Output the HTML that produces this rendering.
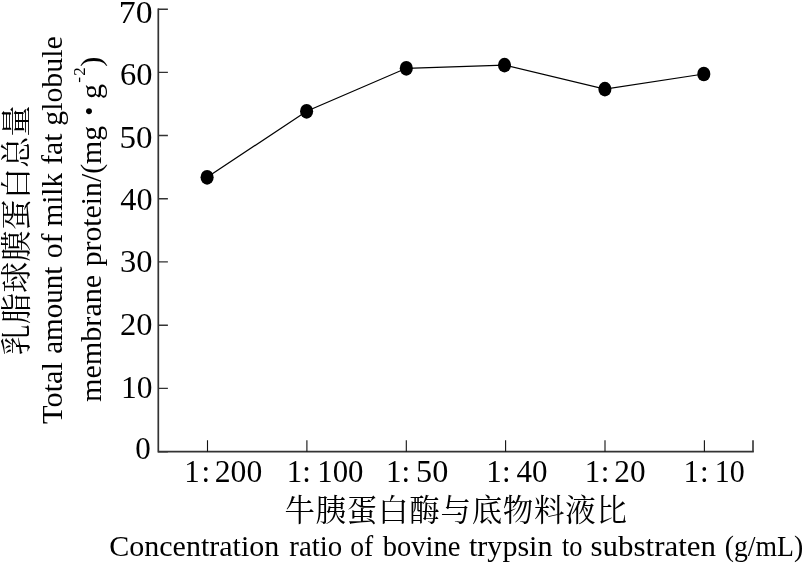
<!DOCTYPE html>
<html lang="zh">
<head>
<meta charset="utf-8">
<title>Chart</title>
<style>
html,body{margin:0;padding:0;background:#fff;}
body{width:805px;height:567px;overflow:hidden;}
svg{display:block;}
text{fill:#000;}
.en{font-family:"Liberation Serif",serif;}
.cn{font-family:"Liberation Serif","Noto Serif CJK SC",serif;}
</style>
</head>
<body>
<svg width="805" height="567" viewBox="0 0 805 567">
<rect width="805" height="567" fill="#fff"/>
<g stroke="#333" stroke-width="1.7" fill="none">
<path d="M158.3 8.6 V451.7 H753.8"/>
<path d="M158 9.3 H167.9 M158 72.4 H167.9 M158 135.5 H167.9 M158 198.7 H167.9 M158 261.9 H167.9 M158 325.2 H167.9 M158 388.4 H167.9 M158 451.7 H167.9" stroke-width="1.4"/>
<path d="M207.5 451.7 V440.2 M306.9 451.7 V440.2 M406.3 451.7 V440.2 M505.6 451.7 V440.2 M605 451.7 V440.2 M704.4 451.7 V440.2" stroke-width="1.1" stroke="#111"/>
<path d="M753 451.7 V440.2" stroke-width="1.6"/>
</g>
<polyline points="207.1,177.3 306.6,111.3 406.3,68.3 504.5,65.1 604.9,89.1 703.8,74.0" fill="none" stroke="#000" stroke-width="1.25"/>
<g fill="#000">
<ellipse cx="207.1" cy="177.3" rx="6.55" ry="7.35"/>
<ellipse cx="306.6" cy="111.3" rx="6.55" ry="7.35"/>
<ellipse cx="406.3" cy="68.3" rx="6.55" ry="7.35"/>
<ellipse cx="504.5" cy="65.1" rx="6.55" ry="7.35"/>
<ellipse cx="604.9" cy="89.1" rx="6.55" ry="7.35"/>
<ellipse cx="703.8" cy="74.0" rx="6.55" ry="7.35"/>
</g>
<text class="en" font-size="31"><tspan x="118.75" y="22.70" textLength="33.75" lengthAdjust="spacingAndGlyphs">70</tspan></text>
<text class="en" font-size="31"><tspan x="120.00" y="85.00" textLength="32.50" lengthAdjust="spacingAndGlyphs">60</tspan></text>
<text class="en" font-size="31"><tspan x="119.50" y="147.50" textLength="33.00" lengthAdjust="spacingAndGlyphs">50</tspan></text>
<text class="en" font-size="31"><tspan x="120.25" y="210.30" textLength="32.25" lengthAdjust="spacingAndGlyphs">40</tspan></text>
<text class="en" font-size="31"><tspan x="120.00" y="272.10" textLength="32.50" lengthAdjust="spacingAndGlyphs">30</tspan></text>
<text class="en" font-size="31"><tspan x="120.00" y="334.70" textLength="32.50" lengthAdjust="spacingAndGlyphs">20</tspan></text>
<text class="en" font-size="31"><tspan x="121.00" y="397.50" textLength="31.50" lengthAdjust="spacingAndGlyphs">10</tspan></text>
<text class="en" font-size="31"><tspan x="135.25" y="459.30">0</tspan></text>
<text class="en" font-size="31"><tspan x="184.25" y="482.40">1</tspan><tspan x="201.45" y="482.40">:</tspan><tspan x="214.75" y="482.40" textLength="47.50" lengthAdjust="spacingAndGlyphs">200</tspan></text>
<text class="en" font-size="31"><tspan x="286.75" y="482.40">1</tspan><tspan x="302.20" y="482.40">:</tspan><tspan x="317.25" y="482.40" textLength="46.25" lengthAdjust="spacingAndGlyphs">100</tspan></text>
<text class="en" font-size="31"><tspan x="386.00" y="482.40">1</tspan><tspan x="401.45" y="482.40">:</tspan><tspan x="416.00" y="482.40" textLength="32.25" lengthAdjust="spacingAndGlyphs">50</tspan></text>
<text class="en" font-size="31"><tspan x="486.25" y="482.40">1</tspan><tspan x="501.95" y="482.40">:</tspan><tspan x="516.50" y="482.40" textLength="31.00" lengthAdjust="spacingAndGlyphs">40</tspan></text>
<text class="en" font-size="31"><tspan x="584.75" y="482.40">1</tspan><tspan x="600.70" y="482.40">:</tspan><tspan x="614.25" y="482.40" textLength="31.25" lengthAdjust="spacingAndGlyphs">20</tspan></text>
<text class="en" font-size="31"><tspan x="683.50" y="482.40">1</tspan><tspan x="699.95" y="482.40">:</tspan><tspan x="714.75" y="482.40" textLength="30.00" lengthAdjust="spacingAndGlyphs">10</tspan></text>
<text class="en" font-size="29"><tspan x="109.25" y="555.70" textLength="170.00" lengthAdjust="spacingAndGlyphs">Concentration</tspan> <tspan x="289.25" y="555.70" textLength="53.00" lengthAdjust="spacingAndGlyphs">ratio</tspan> <tspan x="350.25" y="555.70" textLength="23.00" lengthAdjust="spacingAndGlyphs">of</tspan> <tspan x="382.75" y="555.70" textLength="77.75" lengthAdjust="spacingAndGlyphs">bovine</tspan> <tspan x="469.00" y="555.70" textLength="83.50" lengthAdjust="spacingAndGlyphs">trypsin</tspan> <tspan x="562.00" y="555.70" textLength="20.50" lengthAdjust="spacingAndGlyphs">to</tspan> <tspan x="590.50" y="555.70" textLength="125.50" lengthAdjust="spacingAndGlyphs">substraten</tspan> <tspan x="724.75" y="555.70" textLength="78.50" lengthAdjust="spacingAndGlyphs">(g/mL)</tspan></text>
<text class="cn" font-size="30.5"><tspan x="284.40" y="521.00" textLength="342.60" lengthAdjust="spacing">牛胰蛋白酶与底物料液比</tspan></text>
<text class="cn" font-size="31" transform="rotate(-90)"><tspan x="-355.25" y="26.70" textLength="249.75" lengthAdjust="spacing">乳脂球膜蛋白总量</tspan></text>
<text class="en" font-size="30" transform="rotate(-90)"><tspan x="-424.00" y="62.40" textLength="62.00" lengthAdjust="spacingAndGlyphs">Total</tspan> <tspan x="-353.75" y="62.40" textLength="87.00" lengthAdjust="spacingAndGlyphs">amount</tspan> <tspan x="-258.25" y="62.40" textLength="24.75" lengthAdjust="spacingAndGlyphs">of</tspan> <tspan x="-226.50" y="62.40" textLength="53.50" lengthAdjust="spacingAndGlyphs">milk</tspan> <tspan x="-164.75" y="62.40" textLength="31.25" lengthAdjust="spacingAndGlyphs">fat</tspan> <tspan x="-125.75" y="62.40" textLength="89.50" lengthAdjust="spacingAndGlyphs">globule</tspan></text>
<text class="en" font-size="30" transform="rotate(-90)"><tspan x="-402.00" y="101.00" textLength="127.25" lengthAdjust="spacingAndGlyphs">membrane</tspan> <tspan x="-266.25" y="101.00" textLength="140.25" lengthAdjust="spacingAndGlyphs">protein/(mg</tspan><tspan x="-119.50" y="105.80" font-size="50">·</tspan><tspan x="-99.00" y="101.00">g</tspan><tspan x="-82.75" y="83.60" font-size="17.5">-</tspan><tspan x="-75.75" y="85.40" font-size="17">2</tspan><tspan x="-66.75" y="101.00">)</tspan></text>
</svg>
</body>
</html>
